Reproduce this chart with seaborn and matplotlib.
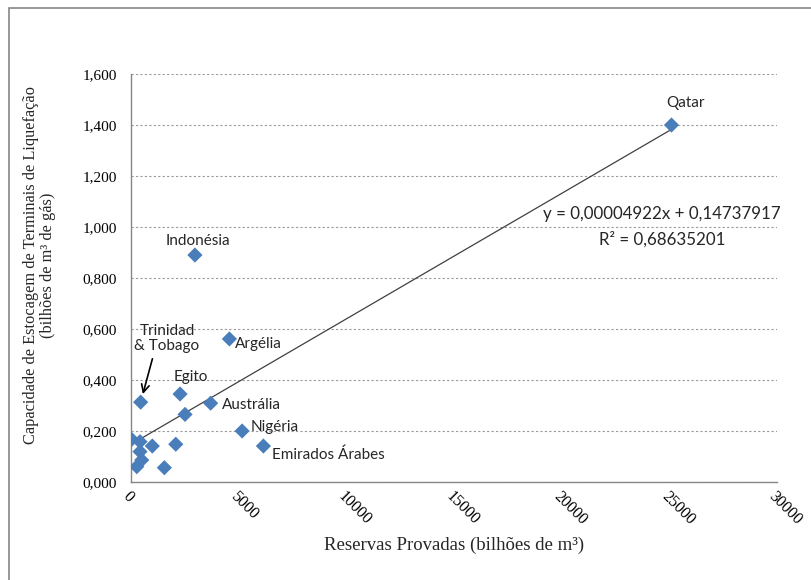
import numpy as np
import pandas as pd
import matplotlib
matplotlib.use("Agg")
import matplotlib.pyplot as plt
from matplotlib.patches import Rectangle
from matplotlib.ticker import FuncFormatter, MultipleLocator
import seaborn as sns

# Data
reservas = [25100, 2970, 4570, 2280, 2510, 3700, 5160, 6150, 450,
            30, 420, 990, 2080, 420, 500, 270, 1550]
capacidade = [1.400, 0.890, 0.561, 0.345, 0.265, 0.309, 0.200, 0.141, 0.313,
              0.167, 0.158, 0.141, 0.148, 0.119, 0.086, 0.060, 0.056]
paises = ["Qatar", "Indonésia", "Argélia", "Egito", "", "Austrália", "Nigéria",
          "Emirados Árabes", "Trinidad\n& Tobago", "", "", "", "", "", "", "", ""]

slope = 0.00004922
intercept = 0.14737917
r2_text = "R² = 0,68635201"
eq_text = "y = 0,00004922x + 0,14737917"

df = pd.DataFrame({"reservas": reservas, "capacidade": capacidade, "pais": paises})

sns.set_style("white")
serif = "Liberation Serif"
label_font = "Lato"

fig = plt.figure(figsize=(8.12, 5.8), dpi=100)
ax = fig.add_axes([0.1613, 0.169, 0.7956, 0.7034])

# trend line over the data range
xs = np.array([df["reservas"].min(), df["reservas"].max()])
ax.plot(xs, slope * xs + intercept, color="#404040", linewidth=0.9, zorder=2)

sns.scatterplot(data=df, x="reservas", y="capacidade", marker="D", s=60,
                color="#4A7EBB", edgecolor="none", ax=ax, zorder=3)

ax.set_xlim(0, 30000)
ax.set_ylim(0, 1.6)
ax.xaxis.set_major_locator(MultipleLocator(5000))
ax.yaxis.set_major_locator(MultipleLocator(0.2))
ax.yaxis.set_major_formatter(FuncFormatter(lambda v, p: f"{v:.3f}".replace(".", ",")))
ax.grid(axis="y", color="#9a9a9a", linestyle=(0, (2, 2)), linewidth=0.8)
ax.set_axisbelow(True)

for side in ["top", "right"]:
    ax.spines[side].set_visible(False)
for side in ["left", "bottom"]:
    ax.spines[side].set_color("#868686")
    ax.spines[side].set_linewidth(1.0)

ax.tick_params(axis="both", colors="#868686", length=4, direction="out", labelcolor="black")
ax.tick_params(axis="y", pad=6, labelsize=11)
ax.tick_params(axis="x", pad=1, labelsize=11.5)
for t in ax.get_yticklabels():
    t.set_fontfamily(serif)
for t in ax.get_xticklabels():
    t.set_fontfamily(serif)
    t.set_rotation(-45)
    t.set_ha("left")
    t.set_va("top")
    t.set_rotation_mode("anchor")

ax.set_xlabel("Reservas Provadas (bilhões de m³)", fontfamily=serif, fontsize=13.5, labelpad=6)
ax.set_ylabel("Capacidade de Estocagem de Terminais de Liquefação\n(bilhões de m³ de gás)",
              fontfamily=serif, fontsize=11.8, labelpad=19, linespacing=1.15)
ax.yaxis.label.set_y(0.532)

# point labels (offsets in points)
offsets = {
    "Qatar": ((10, 16), "center"),
    "Indonésia": ((2, 10), "center"),
    "Argélia": ((4, -4), "left"),
    "Egito": ((-5, 12), "left"),
    "Austrália": ((8, -1), "left"),
    "Nigéria": ((6, 3), "left"),
    "Emirados Árabes": ((6, -6), "left"),
}
for _, row in df.iterrows():
    if row["pais"] in offsets:
        off, ha = offsets[row["pais"]]
        ax.annotate(row["pais"], (row["reservas"], row["capacidade"]), xytext=off,
                    textcoords="offset points", ha=ha, va="center",
                    fontfamily=label_font, fontsize=11, zorder=4)

trin = df[df["pais"].str.startswith("Trinidad")].iloc[0]
ax.annotate(trin["pais"], (trin["reservas"], trin["capacidade"]), xytext=(19, 46),
            textcoords="offset points", ha="center", va="center",
            fontfamily=label_font, fontsize=11, linespacing=1.1,
            arrowprops=dict(arrowstyle="->", color="black", lw=1.2, relpos=(0.3, 0.0),
                            shrinkA=2, shrinkB=6, mutation_scale=14))

ax.text(24660, 1.051, eq_text, ha="center", va="center", fontfamily=label_font,
        fontsize=12.2, clip_on=False)
ax.text(24660, 0.953, r2_text, ha="center", va="center", fontfamily=label_font,
        fontsize=12.2, clip_on=False)

# outer chart frame
fig.add_artist(Rectangle((9 / 812, -0.1), 1.2, 1 - 8 / 580 + 0.1, transform=fig.transFigure,
                         fill=False, edgecolor="#868686", linewidth=1.2))

fig.savefig("out.png", dpi=100)
